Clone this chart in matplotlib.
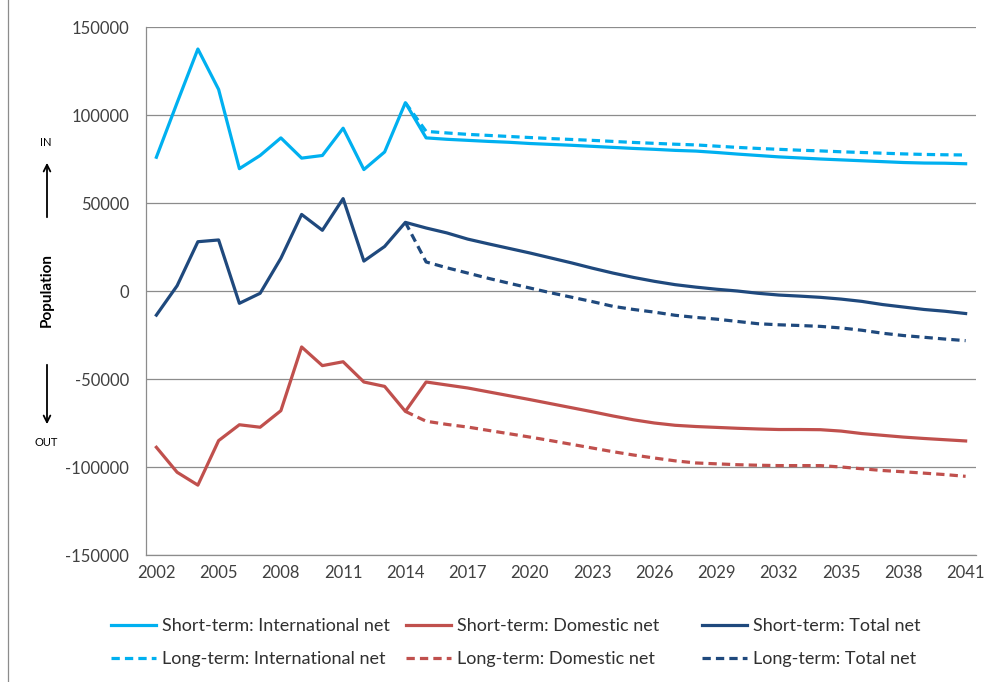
import numpy as np
import matplotlib
matplotlib.use("Agg")
import matplotlib.pyplot as plt
from matplotlib.lines import Line2D

plt.rcParams['font.family'] = ['Lato', 'DejaVu Sans']
plt.rcParams['axes.unicode_minus'] = False

years = list(range(2002, 2042))
long_years = list(range(2014, 2042))

short_intl = [76000, 107000, 137500, 114500, 69500, 77000, 87000, 75500, 77000, 92500,
              69000, 79000, 107000, 87000, 86200, 85600, 85000, 84500, 83800, 83300,
              82800, 82200, 81600, 81000, 80500, 79900, 79500, 78700, 77800, 77000,
              76200, 75600, 75000, 74500, 74000, 73500, 73000, 72700, 72600, 72300]
short_dom = [-88800, -103000, -110300, -85000, -76000, -77400, -68000, -31800, -42400, -40200,
             -51700, -54200, -68400, -51700, -53400, -55100, -57300, -59500, -61700, -64000,
             -66300, -68600, -71000, -73200, -75000, -76300, -77000, -77500, -78000, -78400,
             -78700, -78700, -78800, -79600, -81000, -82000, -83000, -83800, -84500, -85200]
short_total = [-13700, 3000, 28000, 29000, -7000, -1300, 18600, 43500, 34500, 52500,
               17000, 25300, 39000, 35800, 33000, 29500, 26800, 24200, 21600, 18800,
               16000, 13000, 10200, 7700, 5500, 3600, 2200, 1000, 0, -1300,
               -2300, -2900, -3600, -4600, -5900, -7700, -9100, -10500, -11500, -12800]

long_intl = [107000, 90700, 89800, 89000, 88400, 87800, 87200, 86600, 86100, 85600,
             85000, 84400, 83900, 83400, 83000, 82300, 81600, 81000, 80500, 80000,
             79600, 79100, 78700, 78300, 77900, 77600, 77400, 77300]
long_dom = [-68400, -74000, -75800, -77300, -79200, -81100, -83000, -85000, -87100, -89200,
            -91300, -93200, -94900, -96500, -97700, -98200, -98700, -99000, -99200, -99200,
            -99200, -100000, -101000, -102000, -102700, -103500, -104300, -105300]
long_total = [39000, 16500, 13200, 10200, 7200, 4400, 1700, -1000, -3500, -6000,
              -8700, -10500, -12000, -13800, -15000, -16000, -17300, -18600, -19200, -19600,
              -20100, -21000, -22300, -24000, -25300, -26300, -27300, -28200]

c_intl = '#00B0F0'
c_dom = '#C0504D'
c_tot = '#1F497D'
lw = 2.3
dash = (2.6, 1.6)

fig = plt.figure(figsize=(9.93, 6.82), dpi=100)
ax = fig.add_axes([146/993, 1-555/682, (976-146)/993, (555-27)/682])

ax.plot(years, short_intl, color=c_intl, lw=lw)
ax.plot(years, short_dom, color=c_dom, lw=lw)
ax.plot(years, short_total, color=c_tot, lw=lw)
ax.plot(long_years, long_intl, color=c_intl, lw=lw, dashes=dash)
ax.plot(long_years, long_dom, color=c_dom, lw=lw, dashes=dash)
ax.plot(long_years, long_total, color=c_tot, lw=lw, dashes=dash)

ax.set_xlim(2001.5, 2041.5)
ax.set_ylim(-150000, 150000)
ax.set_yticks(np.arange(-150000, 150001, 50000))
ax.set_xticks(range(2002, 2042, 3))
ax.tick_params(axis='both', length=0, labelsize=12, colors='#404040')
ax.tick_params(axis='y', pad=12)
ax.tick_params(axis='x', pad=7)
ax.yaxis.grid(True, color='#8c8c8c', lw=0.9)
ax.set_axisbelow(True)
for s in ['top', 'right']:
    ax.spines[s].set_visible(False)
for s in ['left', 'bottom']:
    ax.spines[s].set_color('#8c8c8c')
    ax.spines[s].set_linewidth(0.9)

# side annotations
fig.text(47/993, 1-290/682, 'Population', rotation=90, ha='center', va='center',
         fontsize=11, fontweight='bold')
fig.text(46/993, 1-143/682, 'IN', ha='center', va='center', fontsize=8)
fig.text(46/993, 1-442/682, 'OUT', ha='center', va='center', fontsize=8)
fig.patches.append(matplotlib.patches.FancyArrowPatch(
    (47/993, 1-220/682), (47/993, 1-160/682), transform=fig.transFigure,
    arrowstyle='->', mutation_scale=12, lw=1.3, color='black'))
fig.patches.append(matplotlib.patches.FancyArrowPatch(
    (47/993, 1-362/682), (47/993, 1-427/682), transform=fig.transFigure,
    arrowstyle='->', mutation_scale=12, lw=1.3, color='black'))

# left border of chart area
fig.add_artist(Line2D([8/993, 8/993], [0, 1], transform=fig.transFigure,
                      color='#8c8c8c', lw=0.9))

# legend: three columns of two entries
groups = [
    ('International net', c_intl, 111),
    ('Domestic net', c_dom, 406),
    ('Total net', c_tot, 702),
]
for name, col, x0 in groups:
    handles = [Line2D([], [], color=col, lw=lw),
               Line2D([], [], color=col, lw=lw, dashes=dash)]
    labels = ['Short-term: ' + name, 'Long-term: ' + name]
    leg = fig.legend(handles, labels, loc='upper left',
                     bbox_to_anchor=(x0/993, 1-618/682), frameon=False,
                     fontsize=13, handlelength=2.5, handletextpad=0.3,
                     labelspacing=0.95, borderaxespad=0, borderpad=0)
    for t in leg.get_texts():
        t.set_color('#303030')

fig.savefig('out.png', dpi=100)
